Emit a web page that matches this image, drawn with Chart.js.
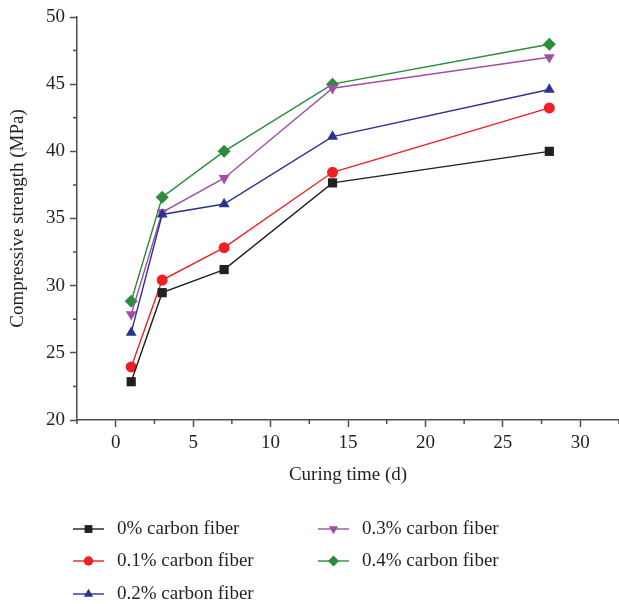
<!DOCTYPE html>
<html>
<head>
<meta charset="utf-8">
<script src="https://cdn.jsdelivr.net/npm/chart.js@4"></script>
<style>
  html, body { margin: 0; padding: 0; background: #fff; }
  #wrap { width: 619px; height: 604px; }
</style>
</head>
<body>
<div id="wrap"><canvas id="strengthChart" width="619" height="604"></canvas></div>
<script>
// Curing time (days) and compressive strength (MPa) per fiber content
const curingDays = [1, 3, 7, 14, 28];
const fiber0 = [22.85, 29.48, 31.2, 37.65, 40.0];
const fiber01 = [23.95, 30.42, 32.83, 38.44, 43.23];
const fiber02 = [26.5, 35.3, 36.08, 41.1, 44.6];
const fiber03 = [27.87, 35.46, 38.0, 44.7, 47.0];
const fiber04 = [28.84, 36.58, 40.0, 45.0, 47.97];
const seriesLabels = ['0% carbon fiber', '0.1% carbon fiber', '0.2% carbon fiber', '0.3% carbon fiber', '0.4% carbon fiber'];

const xTicks = [0, 5, 10, 15, 20, 25, 30];
const yTicks = [20, 25, 30, 35, 40, 45, 50];
const xMinor = [-2.5, 2.5, 7.5, 12.5, 17.5, 22.5, 27.5, 32.5];
const yMinor = [22.5, 27.5, 32.5, 37.5, 42.5, 47.5];

const FONT = "'Liberation Serif', 'Times New Roman', serif";
const TEXT = '#231f20';
const AXIS = '#4d4d4d';

function toPoints(values) {
    return values.map((v, i) => ({ x: curingDays[i], y: v }));
}

const styles = [
    { color: '#231f20', pointStyle: 'rect', radius: 6.5, rotation: 0 },
    { color: '#ed2024', pointStyle: 'circle', radius: 5.5, rotation: 0 },
    { color: '#2e3192', pointStyle: 'triangle', radius: 6.3, rotation: 0 },
    { color: '#a04ea6', pointStyle: 'triangle', radius: 6.3, rotation: 180 },
    { color: '#2b8c3d', pointStyle: 'rectRot', radius: 6.5, rotation: 0 }
];
const allSeries = [fiber0, fiber01, fiber02, fiber03, fiber04];

const datasets = allSeries.map((values, i) => ({
    label: seriesLabels[i],
    data: toPoints(values),
    borderColor: styles[i].color,
    backgroundColor: styles[i].color,
    borderWidth: 1.4,
    pointStyle: styles[i].pointStyle,
    pointRadius: styles[i].radius,
    pointRotation: styles[i].rotation,
    pointBorderWidth: 0,
    tension: 0
}));

// Minor ticks and a two-column legend below the axes
const extras = {
    id: 'extras',
    afterDraw(chart) {
        const ctx = chart.ctx;
        const xs = chart.scales.x;
        const ys = chart.scales.y;
        ctx.save();
        ctx.strokeStyle = AXIS;
        ctx.lineWidth = 1.5;
        ctx.beginPath();
        xMinor.forEach(v => {
            const px = xs.getPixelForValue(v);
            ctx.moveTo(px, ys.bottom);
            ctx.lineTo(px, ys.bottom + 4);
        });
        yMinor.forEach(v => {
            const py = ys.getPixelForValue(v);
            ctx.moveTo(xs.left, py);
            ctx.lineTo(xs.left - 4, py);
        });
        ctx.stroke();

        const slots = [
            { x: 73, y: 529 }, { x: 73, y: 561 }, { x: 73, y: 594 },
            { x: 318, y: 529 }, { x: 318, y: 561 }
        ];
        ctx.font = '19px ' + FONT;
        ctx.textBaseline = 'middle';
        ctx.textAlign = 'left';
        chart.data.datasets.forEach((ds, i) => {
            const s = slots[i];
            ctx.strokeStyle = ds.borderColor;
            ctx.fillStyle = ds.borderColor;
            ctx.lineWidth = 1.4;
            ctx.beginPath();
            ctx.moveTo(s.x, s.y);
            ctx.lineTo(s.x + 31, s.y);
            ctx.stroke();
            Chart.helpers.drawPoint(ctx, {
                pointStyle: ds.pointStyle,
                radius: ds.pointRadius * 0.85,
                rotation: ds.pointRotation,
                borderWidth: 0
            }, s.x + 15.5, s.y);
            ctx.fillStyle = TEXT;
            ctx.fillText(ds.label, s.x + 44, s.y);
        });
        ctx.restore();
    }
};

const ctx = document.getElementById('strengthChart').getContext('2d');
const strengthChart = new Chart(ctx, {
    type: 'line',
    data: { datasets: datasets },
    options: {
        responsive: false,
        animation: false,
        layout: { autoPadding: false, padding: { top: 17, right: 0, bottom: 114, left: 0 } },
        plugins: {
            legend: { display: false },
            tooltip: { enabled: false }
        },
        scales: {
            x: {
                type: 'linear',
                min: -2.5,
                max: 32.5,
                afterBuildTicks: scale => { scale.ticks = xTicks.map(v => ({ value: v })); },
                afterFit: scale => { scale.height = 70; },
                border: { display: true, color: AXIS, width: 1.5 },
                grid: { drawOnChartArea: false, drawTicks: true, tickLength: 7, tickColor: AXIS, tickWidth: 1.5 },
                ticks: { color: TEXT, font: { family: FONT, size: 19 }, padding: 5, maxRotation: 0 },
                title: {
                    display: true,
                    text: 'Curing time (d)',
                    color: TEXT,
                    font: { family: FONT, size: 19 },
                    padding: { top: 4, bottom: 4 }
                }
            },
            y: {
                type: 'linear',
                min: 20,
                max: 50,
                afterBuildTicks: scale => { scale.ticks = yTicks.map(v => ({ value: v })); },
                afterFit: scale => { scale.width = 77; },
                border: { display: true, color: AXIS, width: 1.5 },
                grid: { drawOnChartArea: false, drawTicks: true, tickLength: 7, tickColor: AXIS, tickWidth: 1.5 },
                ticks: { color: TEXT, font: { family: FONT, size: 19 }, padding: 5 },
                title: {
                    display: true,
                    text: 'Compressive strength (MPa)',
                    color: TEXT,
                    font: { family: FONT, size: 19 },
                    padding: { top: 7, bottom: 4 }
                }
            }
        }
    },
    plugins: [extras]
});
</script>
</body>
</html>
